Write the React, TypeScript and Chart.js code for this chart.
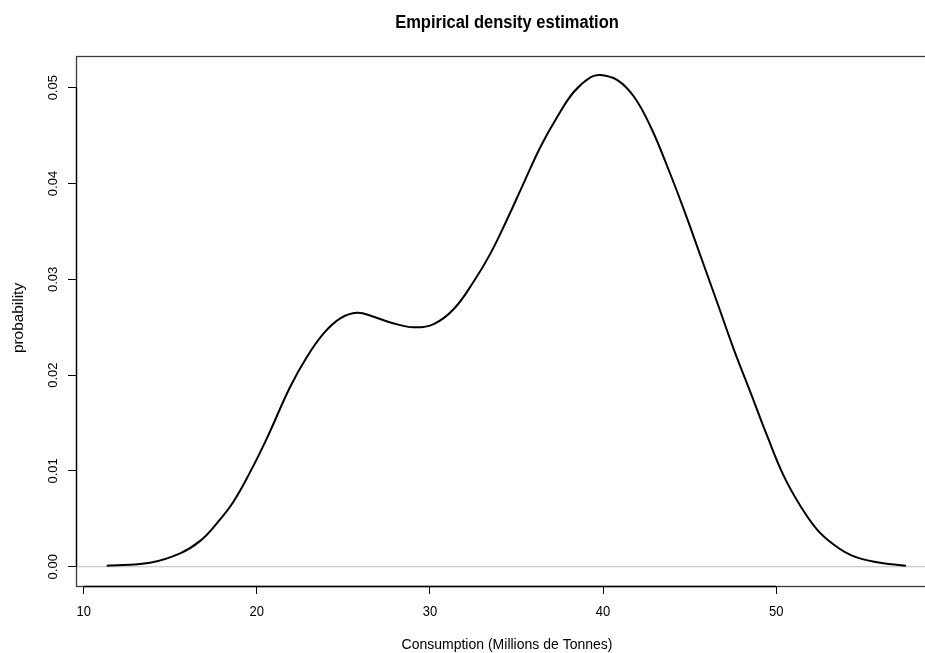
import React, { useEffect, useRef } from "react";
import { Chart, registerables } from "chart.js";

Chart.register(...registerables);

// Kernel density estimate of consumption (millions of tonnes)
const consumption = [
  11.33, 13.83, 15.57, 16.73, 17.69, 18.65, 19.62, 20.58, 21.93,
  22.9, 23.86, 24.82, 25.79, 26.75, 27.72, 29.06, 30.22, 31.38, 32.53,
  33.5, 34.47, 35.43, 36.39, 37.36, 38.32, 39.28, 39.86, 40.83, 41.79,
  42.75, 43.72, 44.68, 45.65, 46.61, 47.57, 48.54, 49.5, 50.46, 51.43,
  52.39, 53.36, 54.32, 55.67, 57.5,
];
const density = [
  0.0001, 0.00042, 0.0014, 0.0027, 0.00453, 0.00679, 0.0099, 0.0134, 0.01879,
  0.02192, 0.02436, 0.02593, 0.02651, 0.0261, 0.0255, 0.02499, 0.02533, 0.0269, 0.02977,
  0.03271, 0.0363, 0.0401, 0.04384, 0.04697, 0.04958, 0.05109, 0.05133, 0.0508, 0.04906,
  0.04593, 0.04175, 0.03723, 0.03236, 0.0275, 0.02262, 0.0181, 0.01357, 0.0094, 0.00626,
  0.00383, 0.00227, 0.00122, 0.00052, 0.0001,
];

const xTicks = [10, 20, 30, 40, 50];
const yTicks = [0, 0.01, 0.02, 0.03, 0.04, 0.05];
const yTickLabels = ["0.00", "0.01", "0.02", "0.03", "0.04", "0.05"];

const xRange = [9.555, 59.35];
const yRange = [-0.00201, 0.05331];

const titleText = "Empirical density estimation";
const xTitle = "Consumption (Millions de Tonnes)";
const yTitle = "probability";

const FAMILY = "'Liberation Sans', Arial, Helvetica, sans-serif";

function drawText(
  ctx: CanvasRenderingContext2D,
  text: string,
  x: number,
  y: number,
  font: string,
  rotate: boolean,
  stretch = 1
) {
  ctx.save();
  ctx.translate(x, y);
  ctx.scale(1, stretch);
  if (rotate) ctx.rotate(-Math.PI / 2);
  ctx.font = font;
  ctx.fillStyle = "#000";
  ctx.textAlign = "center";
  ctx.textBaseline = "alphabetic";
  ctx.fillText(text, 0, 0);
  ctx.restore();
}

// R-style frame, axis lines and all labels
const basePlotDecor = {
  id: "basePlotDecor",
  afterDraw(chart: any) {
    const { ctx, chartArea: a, scales } = chart;
    const xs = scales.x;
    const ys = scales.y;
    ctx.save();

    // plot frame
    ctx.strokeStyle = "#3a3a3a";
    ctx.lineWidth = 1.3;
    ctx.strokeRect(a.left + 0.5, a.top + 0.5, a.right - a.left, a.bottom - a.top);

    // axis lines spanning first to last tick
    ctx.strokeStyle = "#000";
    ctx.lineWidth = 1.3;
    ctx.beginPath();
    ctx.moveTo(xs.getPixelForValue(xTicks[0]), a.bottom + 0.5);
    ctx.lineTo(xs.getPixelForValue(xTicks[xTicks.length - 1]), a.bottom + 0.5);
    ctx.moveTo(a.left + 0.5, ys.getPixelForValue(yTicks[0]));
    ctx.lineTo(a.left + 0.5, ys.getPixelForValue(yTicks[yTicks.length - 1]));
    ctx.stroke();
    ctx.restore();

    // tick labels
    xTicks.forEach((v) => {
      drawText(ctx, String(v), xs.getPixelForValue(v), a.bottom + 30, `13px ${FAMILY}`, false, 1.1);
    });
    yTicks.forEach((v, i) => {
      drawText(ctx, yTickLabels[i], a.left - 19, ys.getPixelForValue(v), `13px ${FAMILY}`, true);
    });

    // titles
    const cx = (a.left + a.right) / 2;
    drawText(ctx, titleText, cx, 28, `bold 16.5px ${FAMILY}`, false, 1.1);
    drawText(ctx, xTitle, cx, 649, `14px ${FAMILY}`, false, 1.1);
    drawText(ctx, yTitle, 22.5, (a.top + a.bottom) / 2 - 3, `14px ${FAMILY}`, true, 1.1);
  },
};

export default function App() {
  const canvasRef = useRef<HTMLCanvasElement | null>(null);

  useEffect(() => {
    const canvas = canvasRef.current;
    if (!canvas) return;

    const chart = new Chart(canvas, {
      type: "line",
      data: {
        datasets: [
          {
            data: consumption.map((x, i) => ({ x, y: density[i] })),
            borderColor: "#000",
            borderWidth: 2,
            pointRadius: 0,
            fill: false,
            tension: 0.4,
            order: 0,
          },
          {
            // horizontal reference at zero
            data: [
              { x: xRange[0], y: 0 },
              { x: xRange[1], y: 0 },
            ],
            borderColor: "#bebebe",
            borderWidth: 1,
            pointRadius: 0,
            fill: false,
            order: 1,
          },
        ],
      },
      options: {
        animation: false,
        responsive: false,
        devicePixelRatio: 1,
        layout: { padding: { left: 0, top: 56, right: 22, bottom: 0 } },
        plugins: {
          legend: { display: false },
          tooltip: { enabled: false },
          title: { display: false },
        },
        scales: {
          x: {
            type: "linear",
            position: "bottom",
            min: xRange[0],
            max: xRange[1],
            afterBuildTicks: (scale: any) => {
              scale.ticks = xTicks.map((value) => ({ value }));
            },
            afterFit: (scale: any) => {
              scale.height = 67;
            },
            ticks: { display: false },
            grid: {
              display: true,
              drawOnChartArea: false,
              drawTicks: true,
              tickLength: 8,
              tickColor: "#000",
              tickWidth: 1,
            },
            border: { display: false },
          },
          y: {
            type: "linear",
            min: yRange[0],
            max: yRange[1],
            afterBuildTicks: (scale: any) => {
              scale.ticks = yTicks.map((value) => ({ value }));
            },
            afterFit: (scale: any) => {
              scale.width = 76;
            },
            ticks: { display: false },
            grid: {
              display: true,
              drawOnChartArea: false,
              drawTicks: true,
              tickLength: 8,
              tickColor: "#000",
              tickWidth: 1,
            },
            border: { display: false },
          },
        },
      },
      plugins: [basePlotDecor],
    });

    return () => chart.destroy();
  }, []);

  return (
    <div
      style={{
        position: "fixed",
        left: 0,
        top: 0,
        width: 925,
        height: 653,
        overflow: "hidden",
        background: "#fff",
      }}
    >
      <canvas
        ref={canvasRef}
        width={960}
        height={653}
        style={{ display: "block", width: 960, height: 653 }}
      />
    </div>
  );
}
